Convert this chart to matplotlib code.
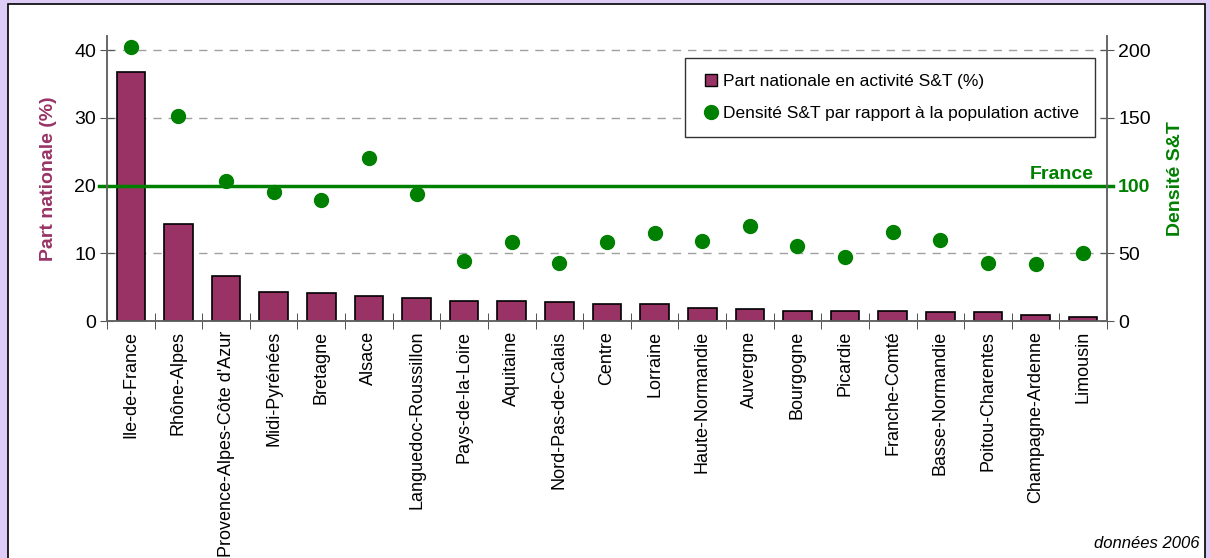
import numpy as np
import matplotlib.pyplot as plt
from matplotlib.patches import Rectangle
from matplotlib.lines import Line2D

plt.rcParams['font.family'] = ['Liberation Sans', 'DejaVu Sans']

regions = ['Ile-de-France', 'Rhône-Alpes', "Provence-Alpes-Côte d'Azur", 'Midi-Pyrénées',
           'Bretagne', 'Alsace', 'Languedoc-Roussillon', 'Pays-de-la-Loire', 'Aquitaine',
           'Nord-Pas-de-Calais', 'Centre', 'Lorraine', 'Haute-Normandie', 'Auvergne',
           'Bourgogne', 'Picardie', 'Franche-Comté', 'Basse-Normandie', 'Poitou-Charentes',
           'Champagne-Ardenne', 'Limousin']
part_nationale = [36.75, 14.3, 6.6, 4.3, 4.1, 3.7, 3.35, 2.9, 2.9, 2.75, 2.5,
                  2.5, 1.9, 1.7, 1.5, 1.5, 1.5, 1.3, 1.3, 0.9, 0.65]
densite = [202, 151, 103, 95, 89, 120, 94, 44, 58, 43, 58,
           65, 59, 70, 55, 47, 66, 60, 43, 42, 50]
france_level = 100

bar_color = '#993366'
dot_color = '#008000'
grid_color = '#a0a0a0'

fig = plt.figure(figsize=(12.1, 5.58), dpi=100)
fig.patch.set_facecolor('#ddccf5')
fig.patches.append(Rectangle((8 / 1210, -0.01), 1197 / 1210, 554 / 558 + 0.01,
                             transform=fig.transFigure, facecolor='white',
                             edgecolor='black', linewidth=1.2, zorder=-5))

ax = fig.add_axes([107 / 1210, 1 - 321 / 558, 1000 / 1210, 285 / 558])
ax2 = ax.twinx()

x = np.arange(len(regions))
ax.bar(x, part_nationale, width=0.6, color=bar_color, edgecolor='black', linewidth=1.2, zorder=3)
ax2.scatter(x, densite, s=100, color=dot_color, zorder=4)

ax.set_ylim(0, 42.07)
ax2.set_ylim(0, 210.35)
ax.set_xlim(-0.5, len(regions) - 0.5)

for v in [10, 30, 40]:
    ax.axhline(v, color=grid_color, linestyle=(0, (6, 5)), linewidth=1, zorder=1)
ax2.plot([-0.66, len(regions) - 0.37], [france_level, france_level], color=dot_color,
         linewidth=2.5, clip_on=False, zorder=2)
ax2.text(19.55, 101.5, 'France', color=dot_color, fontsize=14, fontweight='bold',
         ha='center', va='bottom')

ax.set_yticks([0, 10, 20, 30, 40])
ax2.set_yticks([0, 50, 100, 150, 200])
ax.tick_params(axis='y', direction='inout', length=10, labelsize=14, color='#555555', pad=3)
ax2.tick_params(axis='y', direction='inout', length=10, labelsize=14, color='#555555', pad=3)
for lab in ax2.get_yticklabels():
    if lab.get_text() == '100':
        lab.set_color(dot_color)
        lab.set_fontweight('bold')

ax.set_xticks(x)
ax.set_xticklabels(regions, rotation=90, fontsize=13, va='top', ha='center')
ax.tick_params(axis='x', which='major', length=0, pad=7)
ax.set_xticks(np.arange(len(regions) + 1) - 0.5, minor=True)
ax.tick_params(axis='x', which='minor', direction='inout', length=12, color='#333333')

for a in (ax, ax2):
    a.spines['top'].set_visible(False)
    for s in ('left', 'right', 'bottom'):
        a.spines[s].set_color('#666666')
        a.spines[s].set_linewidth(1.2)

ax.set_ylabel('Part nationale (%)', color=bar_color, fontsize=14, fontweight='bold', labelpad=12)
ax2.set_ylabel('Densité S&T', color=dot_color, fontsize=14, fontweight='bold', labelpad=12)

handles = [Line2D([], [], marker='s', linestyle='none', markersize=9,
                  markerfacecolor=bar_color, markeredgecolor='black'),
           Line2D([], [], marker='o', linestyle='none', markersize=10, color=dot_color)]
leg = ax2.legend(handles, ['Part nationale en activité S&T (%)',
                           'Densité S&T par rapport à la population active'],
                 loc='upper left', bbox_to_anchor=(578 / 1000, 1 - 22 / 285),
                 borderaxespad=0, fontsize=12.5, frameon=True, fancybox=False,
                 handletextpad=0.1, handlelength=1.2, labelspacing=1.0, borderpad=0.9,
                 framealpha=1)
leg.get_frame().set_edgecolor('#333333')
leg.get_frame().set_linewidth(1)
leg.set_zorder(10)

fig.text(1200 / 1210, 1 - 543 / 558, 'données 2006', fontsize=12, style='italic',
         ha='right', va='center')

fig.savefig('out.png', dpi=100, facecolor=fig.get_facecolor())
